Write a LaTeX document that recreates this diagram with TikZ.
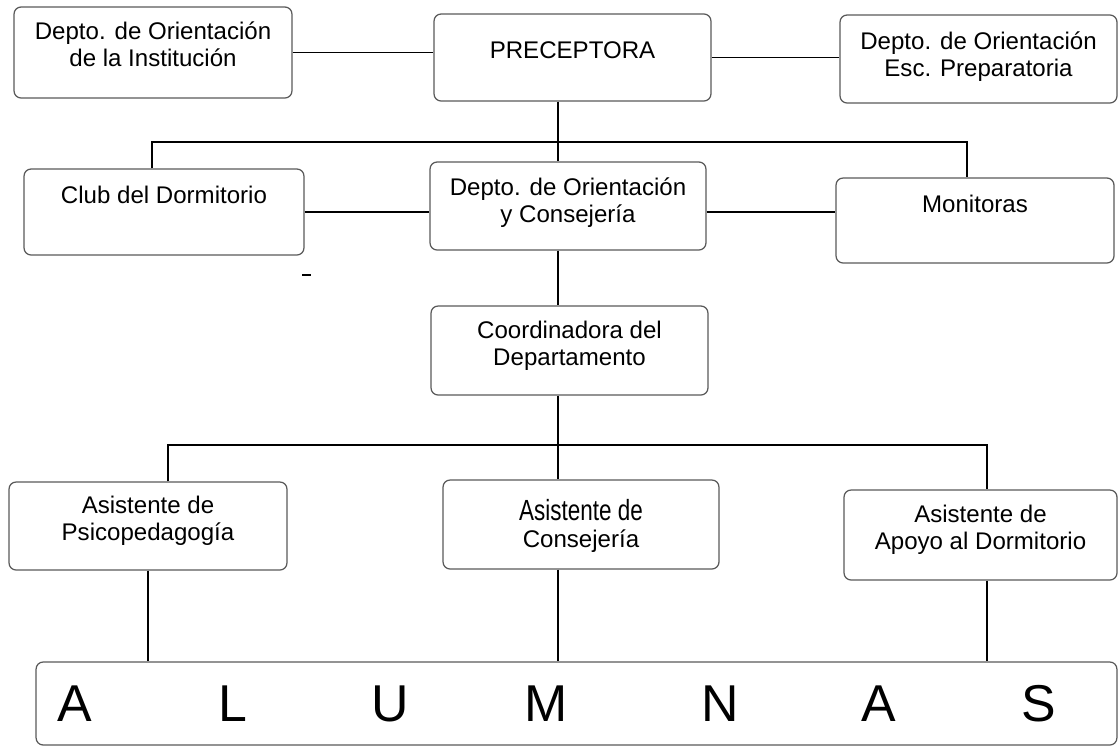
\documentclass[tikz,border=0pt]{standalone}
\usepackage{fontspec}
\setmainfont{Liberation Sans}
\usepackage{graphicx}
\tikzset{
	orgbox/.style={draw=black!65, line width=0.7pt, rounded corners=4pt, inner sep=0pt, align=center,
		font=\fontsize{13.7}{15.1}\selectfont},
	link/.style={line width=1.1pt},
	letter/.style={anchor=base, inner sep=0pt, font=\fontsize{29.5}{30}\selectfont}
}
\begin{document}
\begin{tikzpicture}[x=0.02cm, y=-0.02cm]
	\useasboundingbox (0,0) rectangle (1119,751);
	\node[orgbox, minimum width=5.56cm, text height=1.19cm, text depth=0.63cm] (inst) at (153,52.5) {Depto. de Orientación\\de la Institución};
	\node[orgbox, minimum width=5.54cm, text height=0.88cm, text depth=0.86cm] (prec) at (572.5,57.5) {PRECEPTORA};
	\node[orgbox, minimum width=5.54cm, text height=1.23cm, text depth=0.53cm] (prep) at (978.5,59) {Depto. de Orientación\\Esc. Preparatoria};
	\node[orgbox, minimum width=5.60cm, text height=0.68cm, text depth=1.04cm] (club) at (164,212) {Club del Dormitorio};
	\node[orgbox, minimum width=5.52cm, text height=1.21cm, text depth=0.55cm] (doc) at (568,206) {Depto. de Orientación\\y Consejería};
	\node[orgbox, minimum width=5.56cm, text height=0.68cm, text depth=1.02cm] (mon) at (975,220.5) {Monitoras};
	\node[orgbox, minimum width=5.54cm, text height=1.19cm, text depth=0.59cm] (coord) at (569.5,350.5) {Coordinadora del\\Departamento};
	\node[orgbox, minimum width=5.56cm, text height=1.17cm, text depth=0.59cm] (psico) at (148,526) {Asistente de\\Psicopedagogía};
	\node[orgbox, minimum width=5.52cm, text height=1.34cm, text depth=0.44cm] (ac) at (581,524.5) {\scalebox{0.77}[1]{\fontsize{16.6}{17}\selectfont Asistente de}\\Consejería};
	\node[orgbox, minimum width=5.46cm, text height=1.19cm, text depth=0.61cm] (apoyo) at (980.5,535) {Asistente de\\Apoyo al Dormitorio};
	\node[orgbox, minimum width=21.62cm, minimum height=1.66cm] (alumnas) at (576.5,703.5) {};
	\foreach \x/\ch in {75/A,233/L,390/U,546/M,720/N,879/A,1039/S}
		\node[letter] (let\x) at (\x,721) {\ch};
	
	\coordinate (hubA) at (558,142);
	\coordinate (busAL) at (152,142);
	\coordinate (busAR) at (967,142);
	\coordinate (hubB) at (558,445);
	\coordinate (busBL) at (168,445);
	\coordinate (busBR) at (987,445);
	
	\draw[link] (inst.east) -- (inst.east -| prec.west);
	\draw[link] (prec.east) -- (prec.east -| prep.west);
	\draw[link] (prec.south -| hubA) -- (doc.north -| hubA);
	\draw[link] (club.north -| busAL) |- (busAR) -- (mon.north -| busAR);
	\draw[link] (club.east) -- (club.east -| doc.west);
	\draw[link] (club.east -| doc.east) -- (club.east -| mon.west);
	\draw[link] (doc.south -| hubB) -- (coord.north -| hubB);
	\draw[link] (coord.south -| hubB) -- (ac.north -| hubB);
	\draw[link] (psico.north -| busBL) |- (busBR) -- (apoyo.north -| busBR);
	\draw[link] (psico.south) -- (psico.south |- alumnas.north);
	\draw[link] (ac.south -| hubB) -- (alumnas.north -| hubB);
	\draw[link] (apoyo.south -| busBR) -- (alumnas.north -| busBR);
	
	\draw[link] (302,275) -- (311,275);
\end{tikzpicture}
\end{document}
